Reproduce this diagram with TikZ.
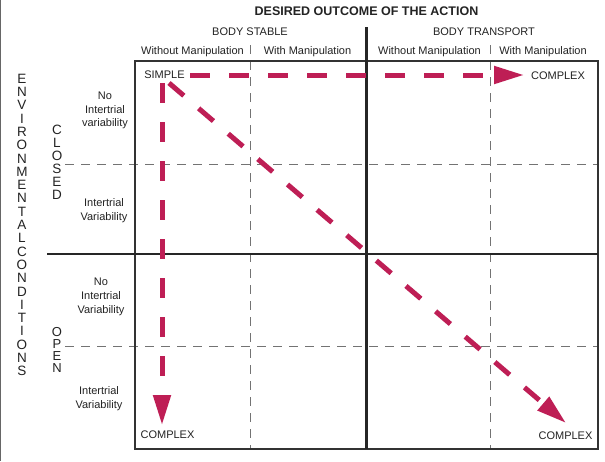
\documentclass[tikz,border=0pt]{standalone}
\usepackage{fontspec}
\setmainfont{Liberation Sans}
\usetikzlibrary{arrows.meta}
\definecolor{arrowred}{RGB}{190,30,85}
\definecolor{txt}{RGB}{35,35,35}
\definecolor{gline}{RGB}{115,115,115}
\begin{document}
\begin{tikzpicture}[x=1pt,y=-1pt,
  lbl/.style={font=\fontsize{11}{13.7}\selectfont, text=txt, inner sep=0pt, align=center},
  hdr/.style={font=\fontsize{11}{13}\selectfont, text=txt, inner sep=0pt, anchor=base},
  ttl/.style={font=\fontsize{12.5}{14}\selectfont\bfseries, text=txt, inner sep=0pt, anchor=base},
  vlet/.style={text=txt, inner sep=0pt, align=center},
  thickline/.style={line width=2.5pt, draw=black!85},
  boxline/.style={line width=2pt, draw=black!80},
  gdash/.style={line width=1pt, draw=gline, dash pattern=on 9pt off 7pt},
  redarrow/.style={line width=5pt, draw=arrowred, dash pattern=on 19.5pt off 19.5pt,
    -{Triangle[length=30pt,width=17pt]}},
]
\useasboundingbox (0,0) rectangle (605,461);
\fill[white] (0,0) rectangle (605,461);
\draw[line width=1pt, draw=black!60] (0.5,0) -- (0.5,461);

% grid
\draw[gdash] (250,45) -- (250,449);
\draw[gdash] (490,45) -- (490,449);
\draw[gdash] (65,164) -- (598,164);
\draw[gdash] (65,346) -- (598,346);
\draw[boxline] (135,61) rectangle (598,449);
\draw[thickline] (366.5,27) -- (366.5,449);
\draw[thickline] (47,254) -- (598,254);

% headers
\node[ttl] (title) at (366.5,15) {DESIRED OUTCOME OF THE ACTION};
\node[hdr] (bstable) at (250,35.5) {BODY STABLE};
\node[hdr] (btrans) at (484,35.5) {BODY TRANSPORT};
\node[hdr] (wo1) at (192.5,54) {Without Manipulation};
\node[hdr] (w1) at (307.5,54) {With Manipulation};
\node[hdr] (wo2) at (429.5,54) {Without Manipulation};
\node[hdr] (w2) at (543,54) {With Manipulation};

% left labels
\node[vlet, font=\fontsize{13.5}{13.3}\selectfont] (env) at (22,225)
  {E\\N\\V\\I\\R\\O\\N\\M\\E\\N\\T\\A\\L\\C\\O\\N\\D\\I\\T\\I\\O\\N\\S};
\node[vlet, font=\fontsize{13.5}{13}\selectfont] (closed) at (57,162.5)
  {C\\L\\O\\S\\E\\D};
\node[vlet, font=\fontsize{13}{11.9}\selectfont] (open) at (57,350)
  {O\\P\\E\\N};

\node[lbl] (r1) at (105,110.5) {No\\Intertrial\\variability};
\node[lbl] (r2) at (104,211) {Intertrial\\Variability};
\node[lbl] (r3) at (101,297) {No\\Intertrial\\Variability};
\node[lbl] (r4) at (99,398.4) {Intertrial\\Variability};

% corner labels
\node[hdr] (simple) at (164.5,78.3) {SIMPLE};
\node[hdr] (cx1) at (558,79) {COMPLEX};
\node[hdr] (cx2) at (167.5,438) {COMPLEX};
\node[hdr] (cx3) at (565.5,439) {COMPLEX};

% arrows
\coordinate (hs) at (190,75);
\coordinate (he) at (524,75);
\coordinate (vs) at (162,83);
\coordinate (ve) at (162,425);
\coordinate (ds) at (169,83);
\coordinate (de) at (566,423);
\draw[redarrow] (hs) -- (he);
\draw[redarrow] (vs) -- (ve);
\draw[redarrow] (ds) -- (de);
\end{tikzpicture}
\end{document}
